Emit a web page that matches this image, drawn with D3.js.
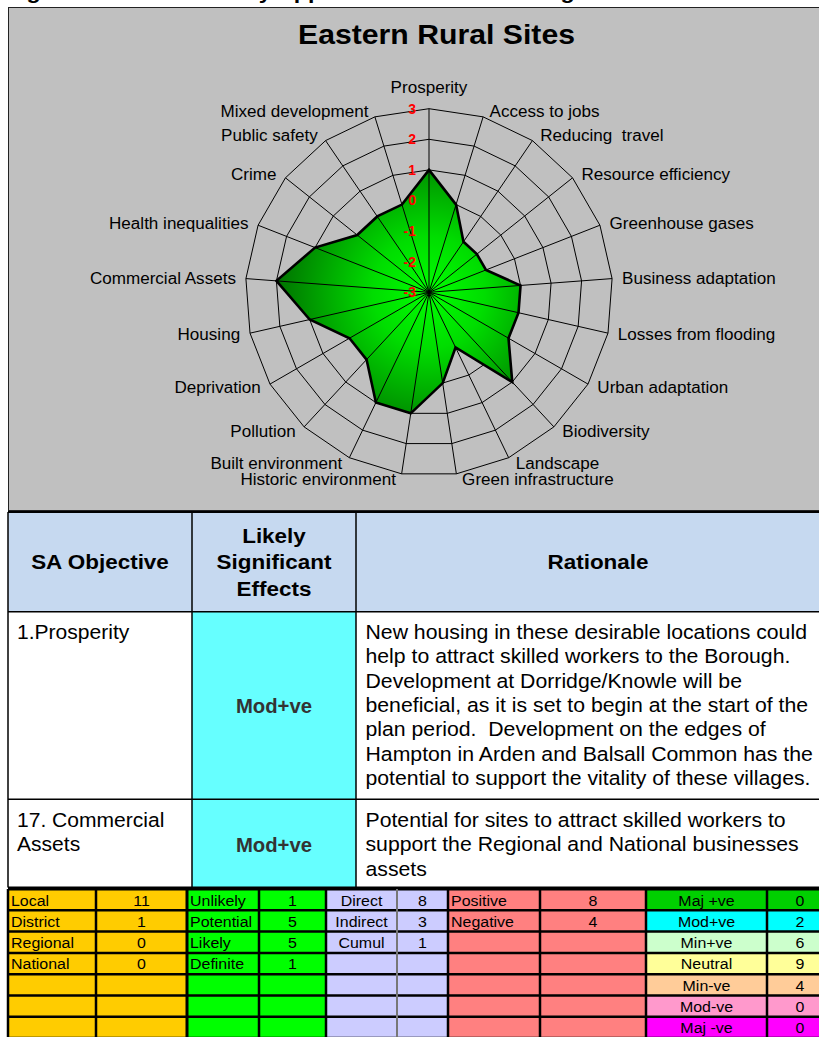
<!DOCTYPE html>
<html>
<head>
<meta charset="utf-8">
<script src="https://cdn.jsdelivr.net/npm/d3@7"></script>
<style>
  html, body { margin: 0; padding: 0; background: #fff; }
  svg { display: block; }
  text { font-family: "Liberation Sans", Arial, Helvetica, sans-serif; white-space: pre; }
</style>
</head>
<body>
<script>
// ---- Radar data: one score per sustainability objective (-3 .. +3) ----
const categories = ["Prosperity", "Access to jobs", "Reducing  travel", "Resource efficiency",
  "Greenhouse gases", "Business adaptation", "Losses from flooding", "Urban adaptation",
  "Biodiversity", "Landscape", "Green infrastructure", "Historic environment",
  "Built environment", "Pollution", "Deprivation", "Housing", "Commercial Assets",
  "Health inequalities", "Crime", "Public safety", "Mixed development"];
const scores = [1, 0, -1, -1, -1, 0, 0, 0, 1, -1, 0, 1, 1, 0, 0, 1, 2, 1, 0, 0, 0];
const scoreTicks = [-3, -2, -1, 0, 1, 2, 3];

const chartTitle = "Eastern Rural Sites";
const figureCaption = "Figure 11: Sustainability Appraisal of Rural Housing Sites";

// ---- Appraisal table ----
const tableHeaders = [["SA Objective"], ["Likely", "Significant", "Effects"], ["Rationale"]];
const objectives = [["1.Prosperity"], ["17. Commercial", "Assets"]];
const effects = ["Mod+ve", "Mod+ve"];
const rationales = [
  ["New housing in these desirable locations could",
   "help to attract skilled workers to the Borough.",
   "Development at Dorridge/Knowle will be",
   "beneficial, as it is set to begin at the start of the",
   "plan period.  Development on the edges of",
   "Hampton in Arden and Balsall Common has the",
   "potential to support the vitality of these villages."],
  ["Potential for sites to attract skilled workers to",
   "support the Regional and National businesses",
   "assets"]
];

// ---- Summary grid ----
const scaleLabels = ["Local", "District", "Regional", "National"];
const scaleCounts = [11, 1, 0, 0];
const likelihoodLabels = ["Unlikely", "Potential", "Likely", "Definite"];
const likelihoodCounts = [1, 5, 5, 1];
const typeLabels = ["Direct", "Indirect", "Cumul"];
const typeCounts = [8, 3, 1];
const directionLabels = ["Positive", "Negative"];
const directionCounts = [8, 4];
const effectLabels = ["Maj +ve", "Mod+ve", "Min+ve", "Neutral", "Min-ve", "Mod-ve", "Maj -ve"];
const effectCounts = [0, 2, 6, 9, 4, 0, 0];
const effectColors = ["#00d000", "#00ffff", "#ccffcc", "#ffff99", "#ffcc99", "#ff99cc", "#ff00ff"];

const W = 819, H = 1037;
const svg = d3.select("body").append("svg").attr("width", W).attr("height", H);

// text helper: glyphs are drawn slightly wide, like the printed document
function label(g, x, y, s, o = {}) {
  const sx = o.sx || 1.08;
  return g.append("text")
    .attr("transform", `translate(${x},${y}) scale(${sx},1)`)
    .attr("text-anchor", o.anchor || "start")
    .attr("dy", o.dy || "0.35em")
    .attr("font-size", o.size || 16)
    .attr("font-weight", o.bold ? "bold" : "normal")
    .attr("fill", o.fill || "#000")
    .text(s);
}

// caption above the chart (runs off the top edge of the page)
label(svg, 6, -1, figureCaption, { size: 21, bold: true, dy: "0", sx: 1.1 });

// ---- chart panel ----
svg.append("rect").attr("x", 8.5).attr("y", 7.5).attr("width", 830).attr("height", 503)
  .attr("fill", "#c0c0c0").attr("stroke", "#222").attr("stroke-width", 1);

label(svg, 436.5, 34, chartTitle, { size: 28.5, bold: true, anchor: "middle", sx: 1.06 });

const cx = 429, cy = 292.3, R = 183.6;
const n = categories.length;
const r = d3.scaleLinear().domain([-3, 3]).range([0, R]);
const ang = i => i * 2 * Math.PI / n;

// radial green shading, bright at the centre of the radar
const defs = svg.append("defs");
const grad = defs.append("radialGradient").attr("id", "greenFill")
  .attr("gradientUnits", "userSpaceOnUse").attr("cx", 0).attr("cy", 0).attr("r", 160)
  .attr("fx", 0).attr("fy", 0);
grad.append("stop").attr("offset", 0).attr("stop-color", "#00ff00");
grad.append("stop").attr("offset", 0.35).attr("stop-color", "#00dd00");
grad.append("stop").attr("offset", 1).attr("stop-color", "#006a00");

const radar = svg.append("g");
const ringLine = d3.lineRadial().angle((d, i) => ang(i)).radius(d => r(d)).curve(d3.curveLinearClosed);

const plot = radar.append("g").attr("transform", `translate(${cx},${cy})`);
// grid rings
scoreTicks.filter(v => v > -3).forEach(v => {
  plot.append("path").attr("d", ringLine(categories.map(() => v)))
    .attr("fill", "none").attr("stroke", "#000").attr("stroke-width", 1);
});

// score area
plot.append("path").attr("d", ringLine(scores))
  .attr("fill", "url(#greenFill)").attr("stroke", "none");

// spokes
categories.forEach((c, i) => {
  const a = ang(i);
  plot.append("line").attr("x1", 0).attr("y1", 0)
    .attr("x2", r(3) * Math.sin(a)).attr("y2", -r(3) * Math.cos(a))
    .attr("stroke", "#000").attr("stroke-width", 1);
});

// area outline
plot.append("path").attr("d", ringLine(scores))
  .attr("fill", "none").attr("stroke", "#000").attr("stroke-width", 2.6)
  .attr("stroke-linejoin", "miter");

// score tick labels
scoreTicks.forEach(v => {
  label(radar, cx - 13, cy - r(v), String(v), { size: 14, bold: true, fill: "#ff0000", anchor: "end", sx: 1.0 });
});

// category labels
categories.forEach((c, i) => {
  const a = ang(i), s = Math.sin(a), co = Math.cos(a);
  const vx = cx + R * s, vy = cy - R * co;
  if (Math.abs(s) < 0.01) {
    label(radar, vx, vy - 21, c, { size: 15.8, anchor: "middle" });
  } else {
    const side = s > 0 ? 1 : -1;
    label(radar, vx + side * (5 + 5 * Math.abs(s)), vy - 6 * co, c,
      { size: 15.8, anchor: side > 0 ? "start" : "end" });
  }
});

// ---- appraisal table ----
const tbl = svg.append("g");
const colX = [8, 192, 356, 840];
const rowY = [512, 611.7, 799.3, 887.5];

tbl.append("rect").attr("x", colX[0]).attr("y", rowY[0]).attr("width", colX[3] - colX[0])
  .attr("height", rowY[1] - rowY[0]).attr("fill", "#c6d9f0");
for (let k = 0; k < 2; k++) {
  tbl.append("rect").attr("x", colX[0]).attr("y", rowY[k + 1]).attr("width", colX[3] - colX[0])
    .attr("height", rowY[k + 2] - rowY[k + 1]).attr("fill", "#fff");
  tbl.append("rect").attr("x", colX[1]).attr("y", rowY[k + 1]).attr("width", colX[2] - colX[1])
    .attr("height", rowY[k + 2] - rowY[k + 1]).attr("fill", "#66ffff");
}
// header text
const hdrMid = (rowY[0] + rowY[1]) / 2;
tableHeaders.forEach((lines, c) => {
  const mx = (colX[c] + Math.min(colX[c + 1], W + 21)) / 2;
  lines.forEach((t, j) => {
    label(tbl, mx, hdrMid + (j - (lines.length - 1) / 2) * 26.5, t,
      { size: 21, bold: true, anchor: "middle", sx: 1.07 });
  });
});
// body rows
const firstLine = [632, 820];
objectives.forEach((lines, k) => {
  lines.forEach((t, j) => label(tbl, 17, firstLine[k] + j * 24.5, t, { size: 19.5 }));
  label(tbl, (colX[1] + colX[2]) / 2, k === 0 ? 706 : 845, effects[k],
    { size: 19.5, bold: true, anchor: "middle", fill: "#333", sx: 1.04 });
  rationales[k].forEach((t, j) => label(tbl, 365.5, firstLine[k] + j * 24.4, t, { size: 19.5, sx: 1.09 }));
});
// table rules
rowY.forEach((y, i) => {
  tbl.append("line").attr("x1", colX[0]).attr("x2", W + 5).attr("y1", y).attr("y2", y)
    .attr("stroke", "#000").attr("stroke-width", i === 0 || i === 3 ? 2 : 1.5);
});
colX.slice(0, 3).forEach(x => {
  tbl.append("line").attr("x1", x).attr("x2", x).attr("y1", rowY[0]).attr("y2", rowY[3])
    .attr("stroke", "#000").attr("stroke-width", 1.5);
});

// ---- summary grid ----
const grid = svg.append("g");
const gx = [8, 96, 187, 259, 326, 397, 448, 540, 646, 767, 835];
const gy0 = 889, rh = 21.3, nRows = 7;
const blocks = [
  { labels: scaleLabels, counts: scaleCounts, fill: () => "#ffcc00", align: "start" },
  { labels: likelihoodLabels, counts: likelihoodCounts, fill: () => "#00ff00", align: "start" },
  { labels: typeLabels, counts: typeCounts, fill: () => "#ccccff", align: "middle" },
  { labels: directionLabels, counts: directionCounts, fill: () => "#ff8080", align: "start" },
  { labels: effectLabels, counts: effectCounts, fill: i => effectColors[i], align: "middle" }
];
blocks.forEach((b, k) => {
  const x0 = gx[2 * k], x1 = gx[2 * k + 1], x2 = gx[2 * k + 2];
  for (let i = 0; i < nRows; i++) {
    const y = gy0 + i * rh;
    grid.append("rect").attr("x", x0).attr("y", y).attr("width", x2 - x0).attr("height", rh).attr("fill", b.fill(i));
    if (i < b.labels.length) {
      const lx = b.align === "start" ? x0 + 3 : (x0 + x1) / 2;
      label(grid, lx, y + rh / 2 + 0.5, b.labels[i], { size: 15.5, anchor: b.align, sx: 1.03 });
      label(grid, (x1 + Math.min(x2, 833)) / 2, y + rh / 2 + 0.5, String(b.counts[i]),
        { size: 15.5, anchor: "middle", sx: 1.03 });
    }
  }
});
for (let i = 0; i <= nRows; i++) {
  const y = gy0 + i * rh;
  grid.append("line").attr("x1", gx[0]).attr("x2", W + 5).attr("y1", y).attr("y2", y)
    .attr("stroke", "#000").attr("stroke-width", i === 0 ? 3 : 2.5);
}
gx.slice(0, 10).forEach((x, i) => {
  const soft = i === 5;
  grid.append("line").attr("x1", x).attr("x2", x).attr("y1", gy0).attr("y2", H + 5)
    .attr("stroke", soft ? "#777" : "#000").attr("stroke-width", soft ? 2 : (i === 2 ? 3 : 2.5));
});
</script>
</body>
</html>
